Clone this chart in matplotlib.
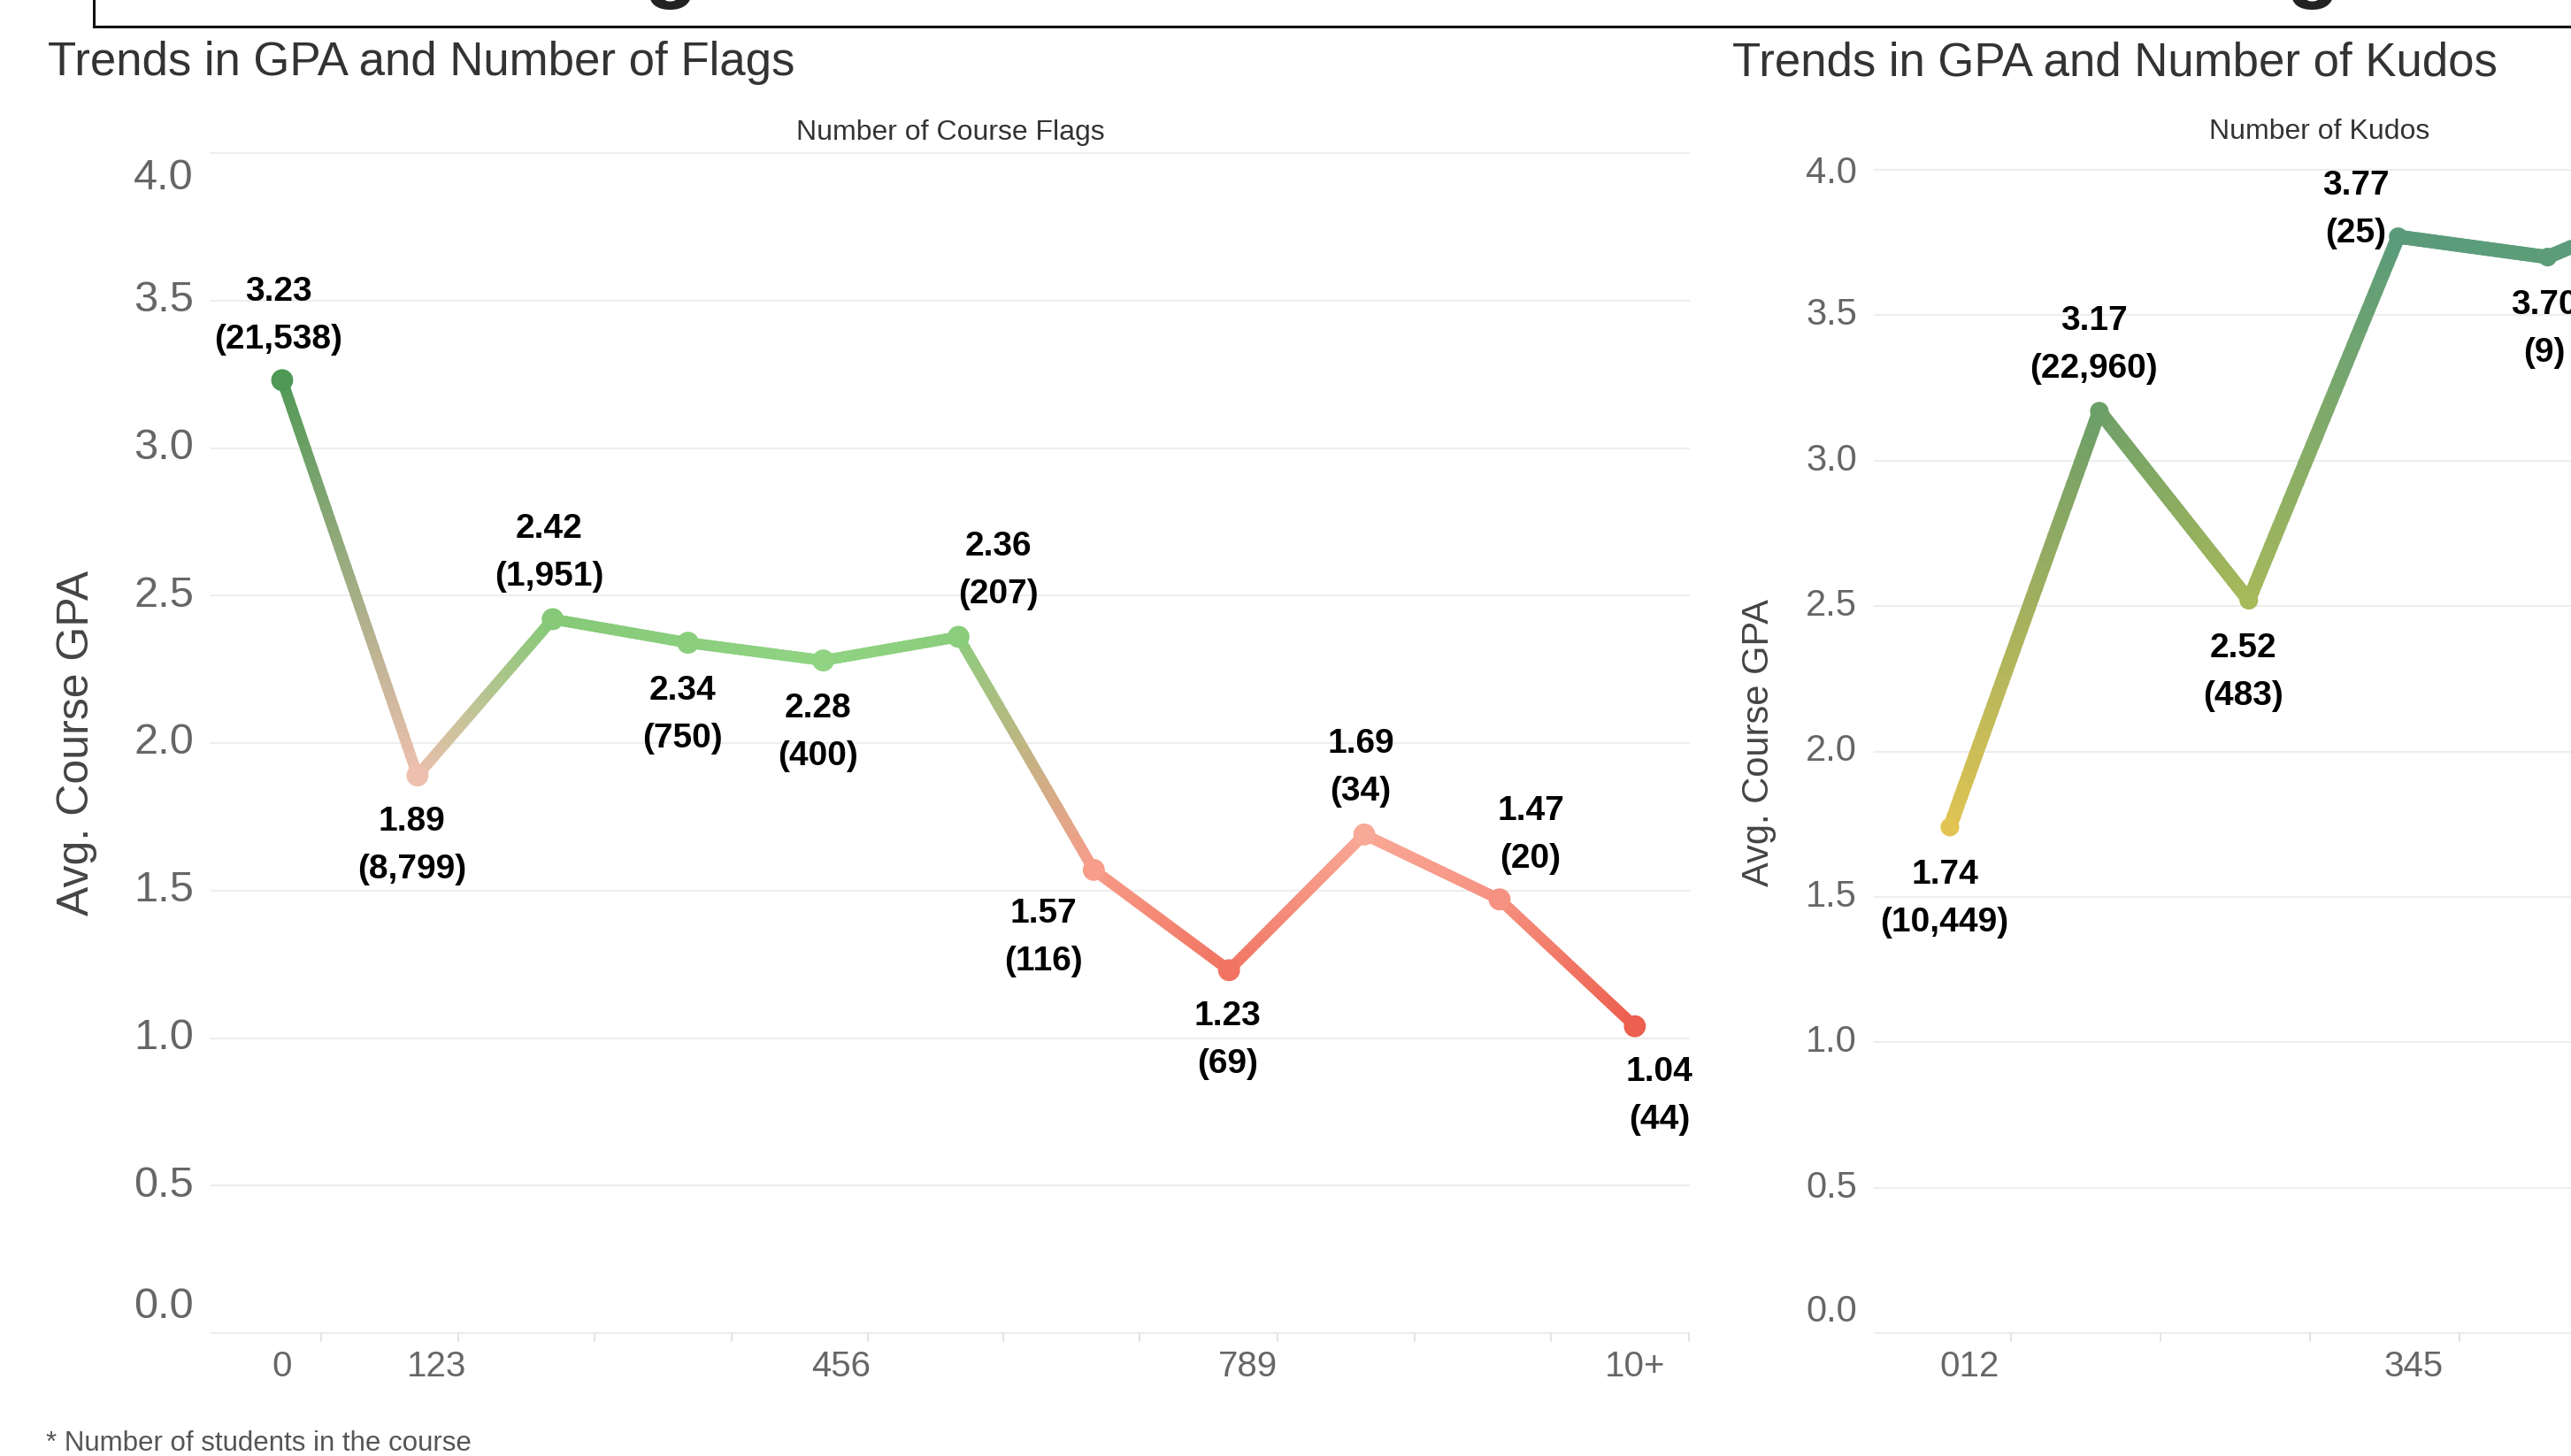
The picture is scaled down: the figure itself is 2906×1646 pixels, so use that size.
import matplotlib
matplotlib.use('Agg')
import matplotlib.pyplot as plt
import numpy as np
from matplotlib.collections import LineCollection
from matplotlib.colors import LinearSegmentedColormap, Normalize
from matplotlib.lines import Line2D

plt.rcParams['font.family'] = ['Liberation Sans', 'DejaVu Sans']

# ---- data ----
flag_gpa = [3.23, 1.89, 2.42, 2.34, 2.28, 2.36, 1.57, 1.23, 1.69, 1.47, 1.04]
flag_students = [21538, 8799, 1951, 750, 400, 207, 116, 69, 34, 20, 44]
flag_ticklabels = ['0', '123', '456', '789', '10+']
flag_tickpos = [0.0, 1.14, 4.13, 7.14, 10.0]

kudos_gpa = [1.74, 3.17, 2.52, 3.77, 3.70, 3.92]
kudos_students = [10449, 22960, 483, 25, 9, 4]
kudos_ticklabels = ['012', '345']
kudos_tickpos = [0.13, 3.10]

gpa_ticks = [0.0, 0.5, 1.0, 1.5, 2.0, 2.5, 3.0, 3.5, 4.0]

# label placement (dx, dy of first line, pixels, dy positive = down)
flag_lab = [(-4, -100), (-6, 52), (-4, -102), (-6, 54), (-6, 54), (45, -102),
            (-57, 50), (-2, 52), (-4, -102), (35, -100), (28, 52)]
kudos_lab = [(-6, 54), (-6, -102), (-6, 54), (-48, -58), (-4, 54), (0, -102)]

flag_cmap = LinearSegmentedColormap.from_list('flags', [
    ((1.0 - 1.0) / 2.3, '#ec5b4a'), ((1.23 - 1.0) / 2.3, '#f17462'),
    ((1.47 - 1.0) / 2.3, '#f69282'), ((1.57 - 1.0) / 2.3, '#f79d8a'),
    ((1.69 - 1.0) / 2.3, '#f9a997'), ((1.89 - 1.0) / 2.3, '#eebfae'),
    ((2.1 - 1.0) / 2.3, '#bfe0ad'), ((2.28 - 1.0) / 2.3, '#90d383'),
    ((2.42 - 1.0) / 2.3, '#86c978'), ((3.23 - 1.0) / 2.3, '#4e9955'),
    (1.0, '#4a9651')])
flag_norm = Normalize(1.0, 3.3)

kudos_cmap = LinearSegmentedColormap.from_list('kudos', [
    (0.0, '#e4c552'), ((2.52 - 1.7) / 2.3, '#a7b95a'),
    ((3.17 - 1.7) / 2.3, '#6d9f69'), ((3.70 - 1.7) / 2.3, '#5c9c79'),
    (1.0, '#56997f')])
kudos_norm = Normalize(1.7, 4.0)

W, H = 2906, 1646
fig = plt.figure(figsize=(W / 100, H / 100), dpi=100)


def rect(x0, y0, x1, y1):
    return [x0 / W, 1 - y1 / H, (x1 - x0) / W, (y1 - y0) / H]


def gradient_line(ax, xs, ys, cols, lw):
    segs, cs = [], []
    for i in range(len(xs) - 1):
        t = np.linspace(0, 1, 41)
        px = xs[i] + (xs[i + 1] - xs[i]) * t
        py = ys[i] + (ys[i + 1] - ys[i]) * t
        c0, c1 = np.array(cols[i][:3]), np.array(cols[i + 1][:3])
        for j in range(len(t) - 1):
            segs.append([(px[j], py[j]), (px[j + 1], py[j + 1])])
            tm = (t[j] + t[j + 1]) / 2
            cs.append(c0 * (1 - tm) + c1 * tm)
    lc = LineCollection(segs, colors=cs, linewidths=lw, capstyle='round', zorder=2)
    ax.add_collection(lc)


def panel(ax, gpa, students, cmap, norm, labs, xlim, ticks, ticklabels, tickpos,
          lw, msize, ysize, yoff_top, yoff_bot):
    xs = np.arange(len(gpa))
    cols = [cmap(norm(v)) for v in gpa]
    ax.set_xlim(*xlim)
    ax.set_ylim(0, 4)
    for s in ax.spines.values():
        s.set_visible(False)
    for v in gpa_ticks:
        ax.axhline(v, color='#eeeeee', lw=1.6, zorder=0, clip_on=False)
    gradient_line(ax, xs, gpa, cols, lw)
    ax.scatter(xs, gpa, c=cols, s=msize, zorder=3, linewidths=0)
    for i, (v, n) in enumerate(zip(gpa, students)):
        dx, dy = labs[i]
        ax.annotate(f'{v:.2f}', (xs[i], v), xytext=(dx, -dy), textcoords='offset pixels',
                    ha='center', va='center', fontsize=28, fontweight='bold',
                    color='black', annotation_clip=False)
        ax.annotate(f'({n:,})', (xs[i], v), xytext=(dx, -dy - 54), textcoords='offset pixels',
                    ha='center', va='center', fontsize=28, fontweight='bold',
                    color='black', annotation_clip=False)
    ax.set_yticks([])
    ytr = ax.get_yaxis_transform()
    for v in gpa_ticks:
        off = 0
        if v == 4.0:
            off = yoff_top
        elif v == 0.0:
            off = yoff_bot
        ax.annotate(f'{v:.1f}', (0, v), xycoords=ytr, xytext=(-20, off),
                    textcoords='offset pixels', ha='right', va='center',
                    fontsize=ysize, color='#666666', annotation_clip=False)
    ax.set_xticks(ticks, minor=True)
    ax.set_xticks(tickpos)
    ax.set_xticklabels(ticklabels)
    ax.tick_params(axis='x', which='minor', length=7.5, width=1.4, color='#e4e4e4',
                   direction='out')
    ax.tick_params(axis='x', which='major', length=0, pad=14, labelsize=29,
                   labelcolor='#666666')


ax1 = fig.add_axes(rect(239, 173, 1909, 1507))
panel(ax1, flag_gpa, flag_students, flag_cmap, flag_norm, flag_lab,
      (-0.523, 10.40),
      [0.288, 1.30, 2.31, 3.32, 4.33, 5.33, 6.34, 7.36, 8.37, 9.38, 10.40],
      flag_ticklabels, flag_tickpos, 9.0, 320, 35, -28, 30)

ax2 = fig.add_axes(rect(2119, 192, 3133, 1507))
panel(ax2, kudos_gpa, kudos_students, kudos_cmap, kudos_norm, kudos_lab,
      (-0.503, 5.5), [0.41, 1.41, 2.41, 3.41, 4.41],
      kudos_ticklabels, kudos_tickpos, 11.5, 230, 30, -4, 24)

# headers and titles
ax1.annotate('Number of Course Flags', (0.5, 1), xycoords='axes fraction',
             xytext=(0, 23), textcoords='offset pixels', ha='center', va='center',
             fontsize=23, color='#333333')
ax2.annotate('Number of Kudos', (0.5, 1), xycoords='axes fraction',
             xytext=(-4, 43), textcoords='offset pixels', ha='center', va='center',
             fontsize=23, color='#333333')

fig.text(54 / W, 1 - 85 / H, 'Trends in GPA and Number of Flags', ha='left',
         va='baseline', fontsize=38, color='#333333')
fig.text(1958 / W, 1 - 85 / H, 'Trends in GPA and Number of Kudos', ha='left',
         va='baseline', fontsize=38, color='#333333')

fig.text(87 / W, 1 - 840 / H, 'Avg. Course GPA', rotation=90, ha='center',
         va='center', fontsize=36, color='#444444')
fig.text(1988 / W, 1 - 840 / H, 'Avg. Course GPA', rotation=90, ha='center',
         va='center', fontsize=30, color='#444444')

fig.text(52 / W, 1 - 1632 / H, '* Number of students in the course', ha='left',
         va='center', fontsize=22.5, color='#555555')

# frame of the dashboard title box, cut off at the top
fig.add_artist(Line2D([106 / W, 1.0], [1 - 30 / H, 1 - 30 / H], color='#111111', lw=2.2))
fig.add_artist(Line2D([106 / W, 106 / W], [1 - 30 / H, 1.0], color='#111111', lw=2.2))
for gx in (758, 2614):
    fig.text(gx / W, 1 + 10 / H, 'g', ha='center', va='baseline', fontsize=72,
             fontweight='bold', color='#222222')

fig.savefig('out.png', dpi=100)
